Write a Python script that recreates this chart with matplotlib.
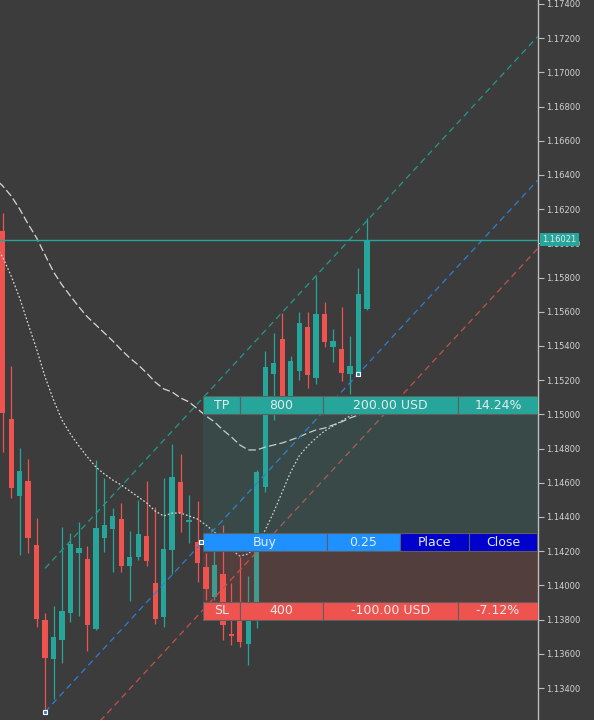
import matplotlib.pyplot as plt
from matplotlib.patches import Rectangle
import numpy as np

# EURUSD-like candles (oldest first)
opens = [1.16073, 1.14973, 1.14523, 1.14609, 1.14236, 1.13798, 1.13568, 1.13681, 1.13837, 1.14188,
         1.14156, 1.13743, 1.14275, 1.14330, 1.14387, 1.14115, 1.14168, 1.14291, 1.14014, 1.13813,
         1.14207, 1.14603, 1.14369, 1.14256, 1.14106, 1.13934, 1.14068, 1.13716, 1.13798, 1.13656,
         1.13905, 1.14577, 1.15236, 1.15439, 1.15084, 1.15254, 1.15513, 1.15211, 1.15587, 1.15392,
         1.15382, 1.15236, 1.15236, 1.15615]
highs = [1.16178, 1.15285, 1.14805, 1.14739, 1.14392, 1.13837, 1.13881, 1.14340, 1.14308, 1.14373,
         1.14230, 1.14733, 1.14626, 1.14451, 1.14484, 1.14318, 1.14499, 1.14611, 1.14460, 1.14626,
         1.14827, 1.14767, 1.14529, 1.14495, 1.14189, 1.14226, 1.14353, 1.14014, 1.14166, 1.14055,
         1.14675, 1.15371, 1.15478, 1.15591, 1.15342, 1.15601, 1.15601, 1.15809, 1.15656, 1.15499,
         1.15630, 1.15458, 1.15854, 1.16147]
lows = [1.14780, 1.14513, 1.14178, 1.14191, 1.13755, 1.13260, 1.13334, 1.13544, 1.13784, 1.13823,
        1.13618, 1.13739, 1.14197, 1.14080, 1.14080, 1.13909, 1.14149, 1.14115, 1.13774, 1.13755,
        1.14067, 1.14310, 1.14246, 1.14022, 1.13915, 1.13915, 1.13681, 1.13651, 1.13641, 1.13535,
        1.13751, 1.14546, 1.14967, 1.15037, 1.15055, 1.15201, 1.15153, 1.15176, 1.15396, 1.15308,
        1.15197, 1.15119, 1.15230, 1.15611]
closes = [1.15008, 1.14568, 1.14671, 1.14275, 1.13804, 1.13574, 1.13697, 1.13852, 1.14242, 1.14217,
          1.13768, 1.14334, 1.14353, 1.14408, 1.14113, 1.14168, 1.14299, 1.14144, 1.13804, 1.14211,
          1.14634, 1.14425, 1.14383, 1.14133, 1.13977, 1.14119, 1.13768, 1.13704, 1.13671, 1.13868,
          1.14665, 1.15279, 1.15299, 1.15084, 1.15314, 1.15533, 1.15230, 1.15587, 1.15422, 1.15427,
          1.15240, 1.15285, 1.15704, 1.16021]

# moving averages, starting one bar before the first visible candle
ma_slow = [1.16382, 1.16336, 1.16277, 1.16201, 1.16113, 1.16032, 1.15932, 1.15833, 1.15757, 1.15692,
           1.15628, 1.15570, 1.15523, 1.15476, 1.15429, 1.15377, 1.15330, 1.15289, 1.15242, 1.15189,
           1.15149, 1.15131, 1.15096, 1.15073, 1.15032, 1.14991, 1.14956, 1.14909, 1.14868, 1.14821,
           1.14792, 1.14792, 1.14809, 1.14821, 1.14833, 1.14850, 1.14868, 1.14891, 1.14909, 1.14920,
           1.14938, 1.14956, 1.14979, 1.14996, 1.15014]
ma_fast = [1.15991, 1.15920, 1.15809, 1.15681, 1.15529, 1.15382, 1.15219, 1.15084, 1.14967, 1.14885,
           1.14815, 1.14751, 1.14692, 1.14651, 1.14616, 1.14587, 1.14552, 1.14517, 1.14482, 1.14435,
           1.14406, 1.14423, 1.14423, 1.14406, 1.14388, 1.14353, 1.14312, 1.14266, 1.14207, 1.14172,
           1.14184, 1.14236, 1.14324, 1.14429, 1.14546, 1.14663, 1.14757, 1.14815, 1.14862, 1.14903,
           1.14932, 1.14961, 1.14991, 1.15020, 1.15043]

last_price = 1.16021
entry_price = 1.14200
tp_price = 1.15000
sl_price = 1.13800

# channel: two anchor bars on the base line, plus offsets of the other two lines
chan_bars = [5, 42]
chan_prices = [1.13260, 1.15238]
chan_upper = 0.0084
chan_lower = -0.0040

tp_cells = ['TP', '800', '200.00 USD', '14.24%']
sl_cells = ['SL', '400', '-100.00 USD', '-7.12%']
buy_cells = ['Buy', '0.25', 'Place', 'Close']

bg = '#3c3c3c'
up_col = '#26a69a'
dn_col = '#ef5350'
txt_col = '#d2d2d2'

fig = plt.figure(figsize=(5.94, 7.2), dpi=100, facecolor=bg)
ax = fig.add_axes([0, 0, 538 / 594, 1])
ax.set_facecolor(bg)
x_left, x_right = -0.32, 63.2
ax.set_xlim(x_left, x_right)
ax.set_ylim(1.13213, 1.17423)

# candles
idx = np.arange(len(opens))
o = np.array(opens)
c = np.array(closes)
colors = [up_col if cc >= oo else dn_col for oo, cc in zip(o, c)]
ax.vlines(idx, lows, highs, colors=colors, lw=0.9, zorder=2)
heights = np.maximum(np.abs(c - o), 0.00004)
ax.bar(idx, heights, bottom=np.minimum(o, c), width=0.62, color=colors, lw=0, zorder=3)

# moving averages
ma_x = np.arange(-1, len(ma_slow) - 1)
ax.plot(ma_x, ma_slow, color='#d8d8d8', lw=0.9, dashes=(6, 2.5), zorder=4)
ax.plot(ma_x, ma_fast, color='#d8d8d8', lw=0.9, dashes=(1.4, 1.6), zorder=4)

# equidistant channel
slope = (chan_prices[1] - chan_prices[0]) / (chan_bars[1] - chan_bars[0])
cx = np.array([chan_bars[0], x_right])
base = chan_prices[0] + slope * (cx - chan_bars[0])
ax.plot(cx, base, color='#2b7fd6', lw=0.9, dashes=(5, 3.5), zorder=4)
ax.plot(cx, base + chan_upper, color='#239a8e', lw=0.9, dashes=(5, 3.5), zorder=4)
ax.plot(cx, base + chan_lower, color='#c4504c', lw=0.9, dashes=(5, 3.5), zorder=4)
ax.plot(chan_bars, chan_prices, ls='none', marker='s', ms=3, mfc='#2b7fd6', mec='white', mew=0.8, zorder=6)

# last price line
ax.axhline(last_price, color=up_col, lw=1, zorder=4)

# trade panel
x0 = 23.65
bar_h = 0.00105
tp_edges = [x0, 28.02, 37.78, 53.79, x_right - 0.05]
buy_edges = [x0, 38.25, 46.91, 55.09, x_right - 0.1]
buy_colors = ['#1e90ff', '#1e90ff', '#0000cd', '#0000cd']

ax.add_patch(Rectangle((x0, entry_price + bar_h), x_right - x0, tp_price - entry_price - bar_h,
                       facecolor=up_col, alpha=0.13, lw=0, zorder=5))
ax.add_patch(Rectangle((x0, sl_price + bar_h), x_right - x0, entry_price - sl_price - bar_h,
                       facecolor=dn_col, alpha=0.13, lw=0, zorder=5))


def draw_row(level, edges, cells, fills):
    for i, label in enumerate(cells):
        ax.add_patch(Rectangle((edges[i], level), edges[i + 1] - edges[i], bar_h,
                               facecolor=fills[i], edgecolor='#5e5e5e', lw=0.8, zorder=7))
        ax.text((edges[i] + edges[i + 1]) / 2, level + bar_h / 2, label, color='#e4ecee',
                fontsize=9, ha='center', va='center', zorder=8)


draw_row(tp_price, tp_edges, tp_cells, [up_col] * 4)
draw_row(sl_price, tp_edges, sl_cells, [dn_col] * 4)
draw_row(entry_price, buy_edges, buy_cells, buy_colors)
ax.plot([x0 - 0.2], [entry_price + bar_h / 2], ls='none', marker='s', ms=3, mfc='#2b7fd6',
        mec='white', mew=0.8, zorder=9)

# price scale on the right
ax.set_xticks([])
ticks = np.arange(1.134, 1.17401, 0.002)
ax.yaxis.tick_right()
ax.set_yticks(ticks)
ax.set_yticklabels(['%.5f' % t for t in ticks])
ax.tick_params(axis='y', colors='#bdbdbd', labelcolor=txt_col, labelsize=6, length=4, width=0.8, pad=2)
for side in ['top', 'left', 'bottom']:
    ax.spines[side].set_visible(False)
ax.spines['right'].set_color('#bdbdbd')
ax.spines['right'].set_linewidth(1)

ax.annotate('%.5f' % last_price, xy=(1, last_price), xycoords=('axes fraction', 'data'),
            xytext=(3, 0), textcoords='offset points', ha='left', va='center',
            fontsize=6, color='#e6e6e6', annotation_clip=False, zorder=10,
            bbox=dict(boxstyle='square,pad=0.25', facecolor=up_col, edgecolor='none'))

fig.savefig('out.png', dpi=100, facecolor=bg)
